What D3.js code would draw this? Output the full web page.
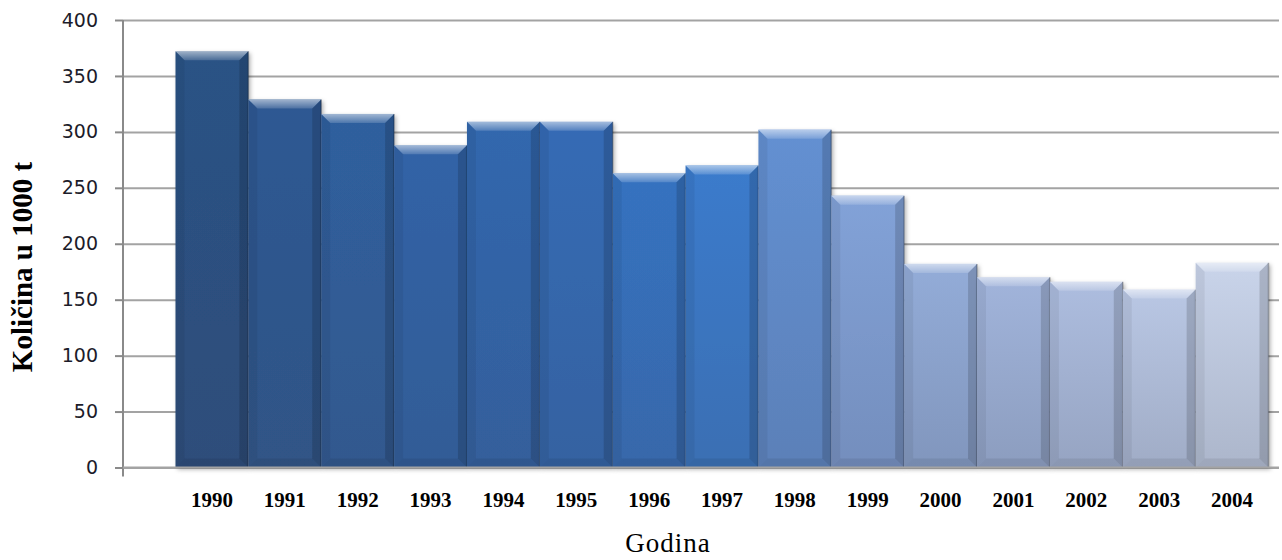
<!DOCTYPE html>
<html>
<head>
<meta charset="utf-8">
<script src="https://cdn.jsdelivr.net/npm/d3@7"></script>
<style>
  body { margin: 0; background: #fff; }
  svg { display: block; }
</style>
</head>
<body>
<svg id="chart" width="1282" height="560"></svg>
<script>
// data
const years = ["1990", "1991", "1992", "1993", "1994", "1995", "1996", "1997",
               "1998", "1999", "2000", "2001", "2002", "2003", "2004"];
const amounts = [372, 329, 316, 288, 309, 309, 263, 270, 302, 243, 182, 170, 166, 159, 183];
const yTicks = [0, 50, 100, 150, 200, 250, 300, 350, 400];

// one fill per bar, dark blue fading to pale
const barColors = ["#2b5285", "#2d5993", "#2f5f9e", "#3063a7", "#3267ae", "#346bb5", "#3672c0", "#3a7bcc",
                   "#6390d2", "#82a2d8", "#93acd8", "#a1b4db", "#adbddf", "#b9c7e4", "#c9d4ea"];

const svg = d3.select("#chart");
const left = 123, right = 1279;

const x = d3.scaleBand().domain(years).range([175.5, 1268.5]).padding(0);
const y = d3.scaleLinear().domain([0, 400]).range([467.5, 20]);

const defs = svg.append("defs");
defs.append("filter").attr("id", "shadow")
    .attr("x", "-10%").attr("y", "-10%").attr("width", "130%").attr("height", "130%")
    .append("feDropShadow")
    .attr("dx", 2).attr("dy", 2).attr("stdDeviation", 2)
    .attr("flood-color", "#000").attr("flood-opacity", 0.3);

barColors.forEach((c, i) => {
    const g = defs.append("linearGradient").attr("id", "bar" + i)
        .attr("x1", 0).attr("y1", 0).attr("x2", 0).attr("y2", 1);
    g.append("stop").attr("offset", "0%").attr("stop-color", c);
    g.append("stop").attr("offset", "100%").attr("stop-color", d3.interpolateRgb(c, "#3a4050")(0.2));
});

const topGrad = defs.append("linearGradient").attr("id", "bevel")
    .attr("x1", 0).attr("y1", 0).attr("x2", 0).attr("y2", 1);
topGrad.append("stop").attr("offset", "0%").attr("stop-color", "#fff").attr("stop-opacity", 0.55);
topGrad.append("stop").attr("offset", "100%").attr("stop-color", "#fff").attr("stop-opacity", 0.15);

// gridlines
svg.append("g")
    .attr("transform", `translate(${left},0)`)
    .call(d3.axisLeft(y).tickValues(yTicks).tickSize(-(right - left)).tickFormat(""))
    .call(g => g.select(".domain").remove())
    .call(g => g.selectAll("line").attr("stroke", "#a3a3a3").attr("stroke-width", 2));

// bars
const bevel = 9;
const bars = svg.append("g").selectAll("g").data(amounts).enter().append("g");

bars.append("rect")
    .attr("x", (d, i) => x(years[i]))
    .attr("y", d => y(d))
    .attr("width", x.bandwidth())
    .attr("height", d => y(0) - y(d))
    .attr("fill", (d, i) => `url(#bar${i})`)
    .attr("filter", "url(#shadow)");

// top bevel
bars.append("polygon")
    .attr("points", (d, i) => {
        const x0 = x(years[i]), x1 = x0 + x.bandwidth(), t = y(d);
        return [[x0, t], [x1, t], [x1 - bevel, t + bevel], [x0 + bevel, t + bevel]].join(" ");
    })
    .attr("fill", "url(#bevel)");

// left edge
bars.append("polygon")
    .attr("points", (d, i) => {
        const x0 = x(years[i]), t = y(d), b = y(0);
        return [[x0, t], [x0 + bevel, t + bevel], [x0 + bevel, b - bevel], [x0, b]].join(" ");
    })
    .attr("fill", "#000").attr("fill-opacity", 0.06);

// right edge
bars.append("polygon")
    .attr("points", (d, i) => {
        const x1 = x(years[i]) + x.bandwidth(), t = y(d), b = y(0);
        return [[x1, t], [x1 - bevel, t + bevel], [x1 - bevel, b - bevel], [x1, b]].join(" ");
    })
    .attr("fill", "#000").attr("fill-opacity", 0.15);

// bottom edge
bars.append("polygon")
    .attr("points", (d, i) => {
        const x0 = x(years[i]), x1 = x0 + x.bandwidth(), b = y(0);
        return [[x0, b], [x1, b], [x1 - bevel, b - bevel], [x0 + bevel, b - bevel]].join(" ");
    })
    .attr("fill", "#000").attr("fill-opacity", 0.08);

// thin dark outline between bars
bars.append("line")
    .attr("x1", (d, i) => x(years[i]) + x.bandwidth())
    .attr("x2", (d, i) => x(years[i]) + x.bandwidth())
    .attr("y1", d => y(d)).attr("y2", y(0))
    .attr("stroke", "#000").attr("stroke-opacity", 0.25).attr("stroke-width", 1.5);

// y axis
svg.append("g")
    .attr("transform", `translate(${left},0)`)
    .call(d3.axisLeft(y).tickValues(yTicks).tickSize(8).tickPadding(17))
    .call(g => g.select(".domain").attr("d", `M0,${y(400)}V${y(0) + 9}`).attr("stroke", "#8a8a8a").attr("stroke-width", 2))
    .call(g => g.selectAll(".tick line").attr("stroke", "#8a8a8a").attr("stroke-width", 2))
    .call(g => g.selectAll("text")
        .attr("font-family", "'DejaVu Sans', Verdana, sans-serif")
        .attr("font-size", 19).attr("fill", "#1c1c2a"));

// x axis line
svg.append("line")
    .attr("x1", left).attr("x2", right).attr("y1", y(0)).attr("y2", y(0))
    .attr("stroke", "#a3a3a3").attr("stroke-width", 2);

// year labels
svg.append("g").selectAll("text").data(years).enter().append("text")
    .attr("x", d => x(d) + x.bandwidth() / 2)
    .attr("y", 507)
    .attr("text-anchor", "middle")
    .attr("font-family", "'Liberation Serif', 'Times New Roman', serif")
    .attr("font-weight", "bold")
    .attr("font-size", 21)
    .attr("fill", "#000")
    .text(d => d);

// axis titles
svg.append("text")
    .attr("x", 668).attr("y", 552)
    .attr("text-anchor", "middle")
    .attr("font-family", "'Liberation Serif', 'Times New Roman', serif")
    .attr("font-size", 27)
    .attr("letter-spacing", 1)
    .attr("fill", "#000")
    .text("Godina");

svg.append("text")
    .attr("transform", "translate(32,267) rotate(-90)")
    .attr("text-anchor", "middle")
    .attr("font-family", "'Liberation Serif', 'Times New Roman', serif")
    .attr("font-weight", "bold")
    .attr("font-size", 29)
    .attr("fill", "#000")
    .text("Količina u 1000 t");
</script>
</body>
</html>
